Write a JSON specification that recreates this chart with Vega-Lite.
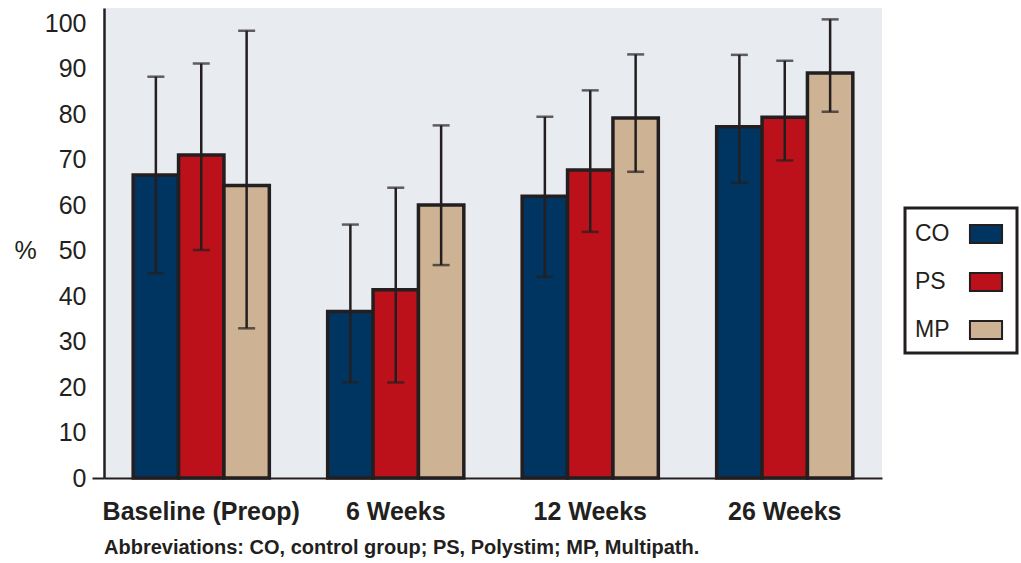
{
  "$schema": "https://vega.github.io/schema/vega-lite/v6.json",
  "autosize": {"type": "none"},
  "padding": {"left": 104, "top": 8, "right": 139, "bottom": 85},
  "width": 778,
  "height": 470,
  "background": "white",
  "config": {
    "view": {"fill": "#e8ebf0", "stroke": null},
    "font": "Liberation Sans"
  },
  "title": {
    "text": "Abbreviations: CO, control group; PS, Polystim; MP, Multipath.",
    "orient": "bottom",
    "anchor": "start",
    "frame": "group",
    "fontSize": 20,
    "fontWeight": "bold",
    "color": "#231f20",
    "font": "Liberation Sans",
    "offset": 14
  },
  "data": {
    "values": [
      {"time": "Baseline (Preop)", "group": "CO", "value": 66.6, "lo": 45.0, "hi": 88.2},
      {"time": "Baseline (Preop)", "group": "PS", "value": 71.0, "lo": 50.1, "hi": 91.1},
      {"time": "Baseline (Preop)", "group": "MP", "value": 64.3, "lo": 32.9, "hi": 98.3},
      {"time": "6 Weeks", "group": "CO", "value": 36.6, "lo": 21.0, "hi": 55.7},
      {"time": "6 Weeks", "group": "PS", "value": 41.4, "lo": 21.0, "hi": 63.8},
      {"time": "6 Weeks", "group": "MP", "value": 60.0, "lo": 46.8, "hi": 77.5},
      {"time": "12 Weeks", "group": "CO", "value": 61.9, "lo": 44.2, "hi": 79.4},
      {"time": "12 Weeks", "group": "PS", "value": 67.7, "lo": 54.1, "hi": 85.2},
      {"time": "12 Weeks", "group": "MP", "value": 79.1, "lo": 67.3, "hi": 93.1},
      {"time": "26 Weeks", "group": "CO", "value": 77.2, "lo": 64.9, "hi": 93.0},
      {"time": "26 Weeks", "group": "PS", "value": 79.3, "lo": 69.8, "hi": 91.7},
      {"time": "26 Weeks", "group": "MP", "value": 89.0, "lo": 80.5, "hi": 100.8}
    ]
  },
  "encoding": {
    "x": {
      "field": "time",
      "type": "nominal",
      "sort": ["Baseline (Preop)", "6 Weeks", "12 Weeks", "26 Weeks"],
      "scale": {"paddingInner": 0.3, "paddingOuter": 0.15},
      "axis": {
        "title": null,
        "labelAngle": 0,
        "labelFontSize": 25,
        "labelFontWeight": "bold",
        "labelColor": "#231f20",
        "labelPadding": 21,
        "labelLimit": 0,
        "ticks": false,
        "domainColor": "#231f20",
        "domainWidth": 2
      }
    },
    "xOffset": {
      "field": "group",
      "type": "nominal",
      "sort": ["CO", "PS", "MP"],
      "scale": {"paddingInner": 0, "paddingOuter": 0}
    }
  },
  "layer": [
    {
      "mark": {"type": "bar", "stroke": "#231f20", "strokeWidth": 3.5},
      "encoding": {
        "y": {
          "field": "value",
          "type": "quantitative",
          "scale": {"domain": [0, 103.3], "nice": false},
          "axis": {
            "values": [0, 10, 20, 30, 40, 50, 60, 70, 80, 90, 100],
            "grid": false,
            "title": "%",
            "titleAngle": 0,
            "titleFontSize": 25,
            "titleFontWeight": "normal",
            "titleColor": "#231f20",
            "titleX": -79,
            "titleY": 242,
            "titleAlign": "center",
            "titleBaseline": "middle",
            "labelFontSize": 25,
            "labelColor": "#231f20",
            "labelPadding": 6,
            "tickSize": 12,
            "tickWidth": 2,
            "tickColor": {"condition": {"test": "datum.value === 0", "value": "#231f20"}, "value": "transparent"},
            "domainColor": "#231f20",
            "domainWidth": 2.5
          }
        },
        "fill": {
          "field": "group",
          "type": "nominal",
          "sort": ["CO", "PS", "MP"],
          "scale": {"domain": ["CO", "PS", "MP"], "range": ["#003561", "#bc111b", "#cdb394"]},
          "legend": {
            "title": null,
            "orient": "none",
            "legendX": 801,
            "legendY": 200,
            "symbolType": "M-1.07,-0.6H1.07V0.6H-1.07Z",
            "symbolSize": 900,
            "symbolStrokeColor": "#231f20",
            "symbolStrokeWidth": 2,
            "labelFontSize": 23,
            "labelColor": "#231f20",
            "rowPadding": 19,
            "padding": 10,
            "strokeColor": "#231f20",
            "fillColor": "white",
            "encode": {
              "legend": {"update": {"strokeWidth": {"value": 3}}},
              "labels": {"update": {"x": {"value": 0}, "align": {"value": "left"}}},
              "symbols": {"update": {"x": {"value": 71}}}
            }
          }
        }
      }
    },
    {
      "mark": {"type": "rule", "color": "#231f20", "strokeWidth": 2.5},
      "encoding": {
        "y": {"field": "lo", "type": "quantitative"},
        "y2": {"field": "hi"}
      }
    },
    {
      "mark": {"type": "tick", "color": "#231f20", "thickness": 2.5, "size": 17},
      "encoding": {
        "y": {"field": "lo", "type": "quantitative"}
      }
    },
    {
      "mark": {"type": "tick", "color": "#231f20", "thickness": 2.5, "size": 17},
      "encoding": {
        "y": {"field": "hi", "type": "quantitative"}
      }
    }
  ]
}
